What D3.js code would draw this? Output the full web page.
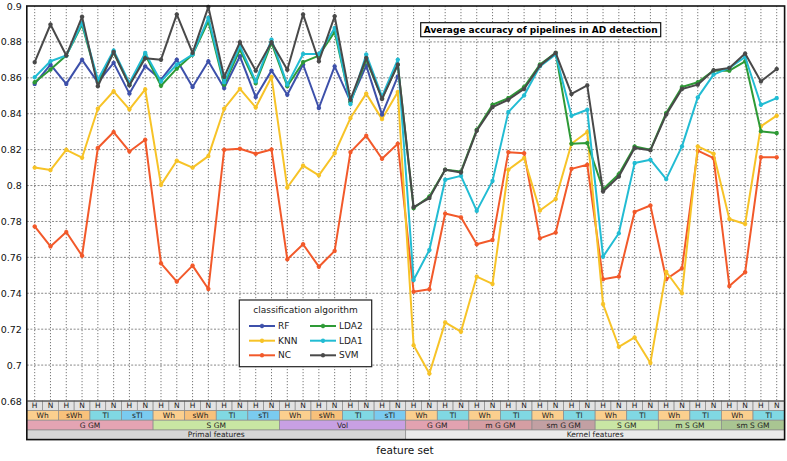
<!DOCTYPE html>
<html>
<head>
<meta charset="utf-8">
<script src="https://cdn.jsdelivr.net/npm/d3@7"></script>
<style>
  html, body { margin: 0; padding: 0; background: #fff; }
  svg { display: block; font-family: "DejaVu Sans", sans-serif; }
</style>
</head>
<body>
<svg id="chart" width="787" height="461"></svg>
<script>
// ---------------- DATA ----------------
const families = ["Primal features", "Kernel features"];
const groups = ["G GM", "S GM", "Vol", "G GM", "m G GM", "sm G GM", "S GM", "m S GM", "sm S GM"];
const groupFamily = [0, 0, 0, 1, 1, 1, 1, 1, 1];
const primalTypes = ["Wh", "sWh", "Tl", "sTl"];
const kernelTypes = ["Wh", "Tl"];
const norms = ["H", "N"];

const yTicks = [0.68, 0.7, 0.72, 0.74, 0.76, 0.78, 0.8, 0.82, 0.84, 0.86, 0.88, 0.9];
const yTickLabels = ["0.68", "0.7", "0.72", "0.74", "0.76", "0.78", "0.8", "0.82", "0.84", "0.86", "0.88", "0.9"];

const seriesNames = ["RF", "KNN", "NC", "LDA2", "LDA1", "SVM"];

const rf = [0.8566, 0.8674, 0.8566, 0.8700, 0.8575, 0.8683, 0.8512, 0.8664,
            0.8590, 0.8701, 0.8549, 0.8692, 0.8543, 0.8720, 0.8493, 0.8640,
            0.8506, 0.8674, 0.8432, 0.8664, 0.8469, 0.8668, 0.8395, 0.8608];
const knn = [0.8100, 0.8086, 0.8199, 0.8155, 0.8428, 0.8525, 0.8424, 0.8536,
             0.8004, 0.8138, 0.8100, 0.8164, 0.8428, 0.8538, 0.8435, 0.8605,
             0.7989, 0.8111, 0.8057, 0.8180, 0.8376, 0.8512, 0.8370, 0.8521,
             0.7110, 0.6953, 0.7238, 0.7186, 0.7493, 0.7452, 0.8088, 0.8153,
             0.7861, 0.7925, 0.8233, 0.8298, 0.7340, 0.7102, 0.7154, 0.7012,
             0.7520, 0.7400, 0.8218, 0.8177, 0.7814, 0.7786, 0.8330, 0.8389];
const nc = [0.7772, 0.7661, 0.7741, 0.7609, 0.8209, 0.8298, 0.8190, 0.8255,
            0.7567, 0.7465, 0.7554, 0.7424, 0.8199, 0.8205, 0.8177, 0.8201,
            0.7589, 0.7673, 0.7548, 0.7636, 0.8186, 0.8277, 0.8149, 0.8233,
            0.7409, 0.7422, 0.7844, 0.7823, 0.7673, 0.7697, 0.8186, 0.8180,
            0.7706, 0.7738, 0.8093, 0.8116, 0.7478, 0.7493, 0.7853, 0.7889,
            0.7478, 0.7539, 0.8194, 0.8153, 0.7440, 0.7517, 0.8158, 0.8157];
const lda2 = [0.8575, 0.8646, 0.8724, 0.8897, 0.8580, 0.8739, 0.8560, 0.8730,
              0.8556, 0.8651, 0.8730, 0.8915, 0.8562, 0.8757, 0.8570, 0.8795,
              0.8553, 0.8687, 0.8724, 0.8856, 0.8464, 0.8701, 0.8487, 0.8674,
              0.7874, 0.7939, 0.8088, 0.8078, 0.8311, 0.8450, 0.8487, 0.8549,
              0.8674, 0.8739, 0.8233, 0.8237, 0.7980, 0.8063, 0.8218, 0.8199,
              0.8404, 0.8549, 0.8575, 0.8640, 0.8640, 0.8692, 0.8302, 0.8292];
const lda1 = [0.8603, 0.8692, 0.8724, 0.8906, 0.8590, 0.8752, 0.8571, 0.8739,
              0.8580, 0.8674, 0.8730, 0.8934, 0.8575, 0.8776, 0.8580, 0.8813,
              0.8562, 0.8733, 0.8733, 0.8878, 0.8454, 0.8730, 0.8497, 0.8701,
              0.7474, 0.7641, 0.8032, 0.8054, 0.7859, 0.8026, 0.8409, 0.8502,
              0.8664, 0.8730, 0.8389, 0.8422, 0.7604, 0.7734, 0.8125, 0.8144,
              0.8036, 0.8218, 0.8491, 0.8618, 0.8655, 0.8716, 0.8450, 0.8487];
const svm = [0.8687, 0.8897, 0.8724, 0.8940, 0.8553, 0.8744, 0.8558, 0.8709,
             0.8701, 0.8953, 0.8739, 0.8995, 0.8605, 0.8798, 0.8640, 0.8798,
             0.8645, 0.8953, 0.8692, 0.8943, 0.8478, 0.8711, 0.8482, 0.8674,
             0.7880, 0.7930, 0.8088, 0.8073, 0.8305, 0.8437, 0.8478, 0.8538,
             0.8668, 0.8739, 0.8510, 0.8558, 0.7967, 0.8050, 0.8209, 0.8196,
             0.8395, 0.8538, 0.8562, 0.8642, 0.8655, 0.8735, 0.8580, 0.8649];

// ---------------- CATEGORIES ----------------
const cats = [];
const typeCells = [];
const groupCells = [];
groups.forEach((g, gi) => {
  const types = groupFamily[gi] === 0 ? primalTypes : kernelTypes;
  const gStart = cats.length;
  types.forEach(t => {
    const tStart = cats.length;
    norms.forEach(n => cats.push({ norm: n, type: t, group: gi, family: groupFamily[gi] }));
    typeCells.push({ label: t, start: tStart, end: cats.length });
  });
  groupCells.push({ label: g, gi: gi, start: gStart, end: cats.length });
});
const familyCells = families.map((f, fi) => {
  const idx = cats.map((c, i) => c.family === fi ? i : -1).filter(i => i >= 0);
  return { label: f, fi: fi, start: idx[0], end: idx[idx.length - 1] + 1 };
});

const series = [
  { name: "NC", values: nc, color: "#f2592a" },
  { name: "KNN", values: knn, color: "#f7c327" },
  { name: "RF", values: rf, color: "#3d50aa" },
  { name: "LDA2", values: lda2, color: "#2e9a36" },
  { name: "LDA1", values: lda1, color: "#22bcd3" },
  { name: "SVM", values: svm, color: "#494949" }
];
const colorOf = Object.fromEntries(series.map(s => [s.name, s.color]));

// ---------------- LAYOUT ----------------
const svg = d3.select("#chart");
const pL = 26.8, pR = 784.6, pT = 6, pB = 401;
const rowH = [9.6, 9.6, 9.8, 9.6];

const x = d3.scaleBand().domain(d3.range(cats.length)).range([pL, pR]).padding(0);
const xc = i => x(i) + x.bandwidth() / 2;
const y = d3.scaleLinear().domain([0.68, 0.9]).range([pB, pT]);

// grid
const grid = svg.append("g");
grid.selectAll("line.h").data(yTicks.slice(1, -1)).join("line")
  .attr("x1", pL).attr("x2", pR)
  .attr("y1", d => y(d)).attr("y2", d => y(d))
  .attr("stroke", "#7a7a7a").attr("stroke-width", 0.9).attr("stroke-dasharray", "2,1.6");
grid.selectAll("line.v").data(d3.range(cats.length)).join("line")
  .attr("x1", d => xc(d)).attr("x2", d => xc(d))
  .attr("y1", pT).attr("y2", pB)
  .attr("stroke", "#555").attr("stroke-width", 0.8).attr("stroke-dasharray", "1.2,1.8");

// y axis labels
const yAxis = d3.axisLeft(y).tickValues(yTicks).tickSize(0).tickPadding(5)
  .tickFormat((d, i) => yTickLabels[i]);
const yg = svg.append("g").attr("transform", `translate(${pL},0)`).call(yAxis);
yg.select(".domain").remove();
yg.selectAll("text").attr("font-size", 9.5).attr("fill", "#111").attr("font-family", "DejaVu Sans");

// lines
const markerPath = (r) => `M${-r},0L${r},0M0,${-r}L0,${r}M${-r*0.7},${-r*0.7}L${r*0.7},${r*0.7}M${-r*0.7},${r*0.7}L${r*0.7},${-r*0.7}`;
const line = d3.line().defined(d => d != null).x((d, i) => xc(i)).y(d => y(d));
const lg = svg.append("g");
series.forEach(s => {
  lg.append("path").datum(s.values)
    .attr("d", line).attr("fill", "none")
    .attr("stroke", s.color).attr("stroke-width", 2).attr("stroke-linejoin", "round");
  lg.append("g").selectAll("path").data(s.values.map((v, i) => ({ v, i })).filter(d => d.v != null))
    .join("path")
    .attr("transform", d => `translate(${xc(d.i)},${y(d.v)})`)
    .attr("d", markerPath(2.2)).attr("stroke", s.color).attr("stroke-width", 1.3).attr("fill", "none");
});

// ---------------- TABLE ----------------
const rowY = [pB];
rowH.forEach(h => rowY.push(rowY[rowY.length - 1] + h));
const table = svg.append("g");
const typeColors = { "Wh": "#fbcf8e", "sWh": "#f8c17b", "Tl": "#80d8e3", "sTl": "#7acbf0" };
const groupColors = ["#e4a4b3", "#c9e6a3", "#c8a0e3", "#e2a2b0", "#d59ea3", "#c2a0a3", "#c9e6a4", "#b9d89d", "#a9c592"];
const familyColors = ["#d6d6d6", "#eaeaea"];

function cellRow(data, ri, fill, label, fs) {
  const g = table.append("g");
  g.selectAll("rect").data(data).join("rect")
    .attr("x", d => x(d.start)).attr("width", d => x(d.end - 1) + x.bandwidth() - x(d.start))
    .attr("y", rowY[ri]).attr("height", rowH[ri])
    .attr("fill", fill).attr("stroke", "#8a8a8a").attr("stroke-width", 0.7);
  g.selectAll("text").data(data).join("text")
    .attr("x", d => (x(d.start) + x(d.end - 1) + x.bandwidth()) / 2)
    .attr("y", rowY[ri] + rowH[ri] / 2 + 0.5)
    .attr("text-anchor", "middle").attr("dominant-baseline", "middle")
    .attr("font-size", fs).attr("fill", "#222").text(label);
}
cellRow(cats.map((c, i) => ({ start: i, end: i + 1, label: c.norm })), 0, "#e2e2e2", d => d.label, 7.5);
cellRow(typeCells, 1, d => typeColors[d.label], d => d.label, 7.5);
cellRow(groupCells, 2, d => groupColors[d.gi], d => d.label, 7.5);
cellRow(familyCells, 3, d => familyColors[d.fi], d => d.label, 7.5);

// frame
svg.append("rect").attr("x", pL).attr("y", pT).attr("width", pR - pL)
  .attr("height", rowY[4] - pT).attr("fill", "none").attr("stroke", "#111").attr("stroke-width", 1.6);
svg.append("line").attr("x1", pL).attr("x2", pR).attr("y1", pB).attr("y2", pB)
  .attr("stroke", "#333").attr("stroke-width", 1);

// axis title
svg.append("text").attr("x", 405).attr("y", 454).attr("text-anchor", "middle")
  .attr("font-size", 10.5).attr("fill", "#111").text("feature set");

// chart title box
const tg = svg.append("g");
tg.append("rect").attr("x", 420.7).attr("y", 22.7).attr("width", 240).attr("height", 14)
  .attr("fill", "#fff").attr("stroke", "#111").attr("stroke-width", 1.2);
tg.append("text").attr("x", 540.7).attr("y", 30.2).attr("text-anchor", "middle")
  .attr("dominant-baseline", "middle").attr("font-weight", "bold").attr("font-size", 9)
  .attr("fill", "#000").text("Average accuracy of pipelines in AD detection");

// legend
const leg = svg.append("g");
leg.append("rect").attr("x", 239.3).attr("y", 300).attr("width", 132.4).attr("height", 66.7)
  .attr("fill", "#fff").attr("stroke", "#222").attr("stroke-width", 1.2);
leg.append("text").attr("x", 305.5).attr("y", 310.5).attr("text-anchor", "middle")
  .attr("dominant-baseline", "middle").attr("font-size", 9).attr("fill", "#222")
  .text("classification algorithm");
const legendItems = seriesNames.map((n, i) => ({ name: n, col: Math.floor(i / 3), row: i % 3 }));
const legendX = [249, 310], legendY = [326, 340.7, 355.3];
legendItems.forEach(it => {
  const lx = legendX[it.col], ly = legendY[it.row];
  leg.append("line").attr("x1", lx).attr("x2", lx + 26).attr("y1", ly).attr("y2", ly)
    .attr("stroke", colorOf[it.name]).attr("stroke-width", 2);
  leg.append("path").attr("transform", `translate(${lx + 13},${ly})`).attr("d", markerPath(2.2))
    .attr("stroke", colorOf[it.name]).attr("stroke-width", 1.3);
  leg.append("text").attr("x", lx + 29).attr("y", ly + 0.5).attr("dominant-baseline", "middle")
    .attr("font-size", 9).attr("fill", "#222").text(it.name);
});
</script>
</body>
</html>
